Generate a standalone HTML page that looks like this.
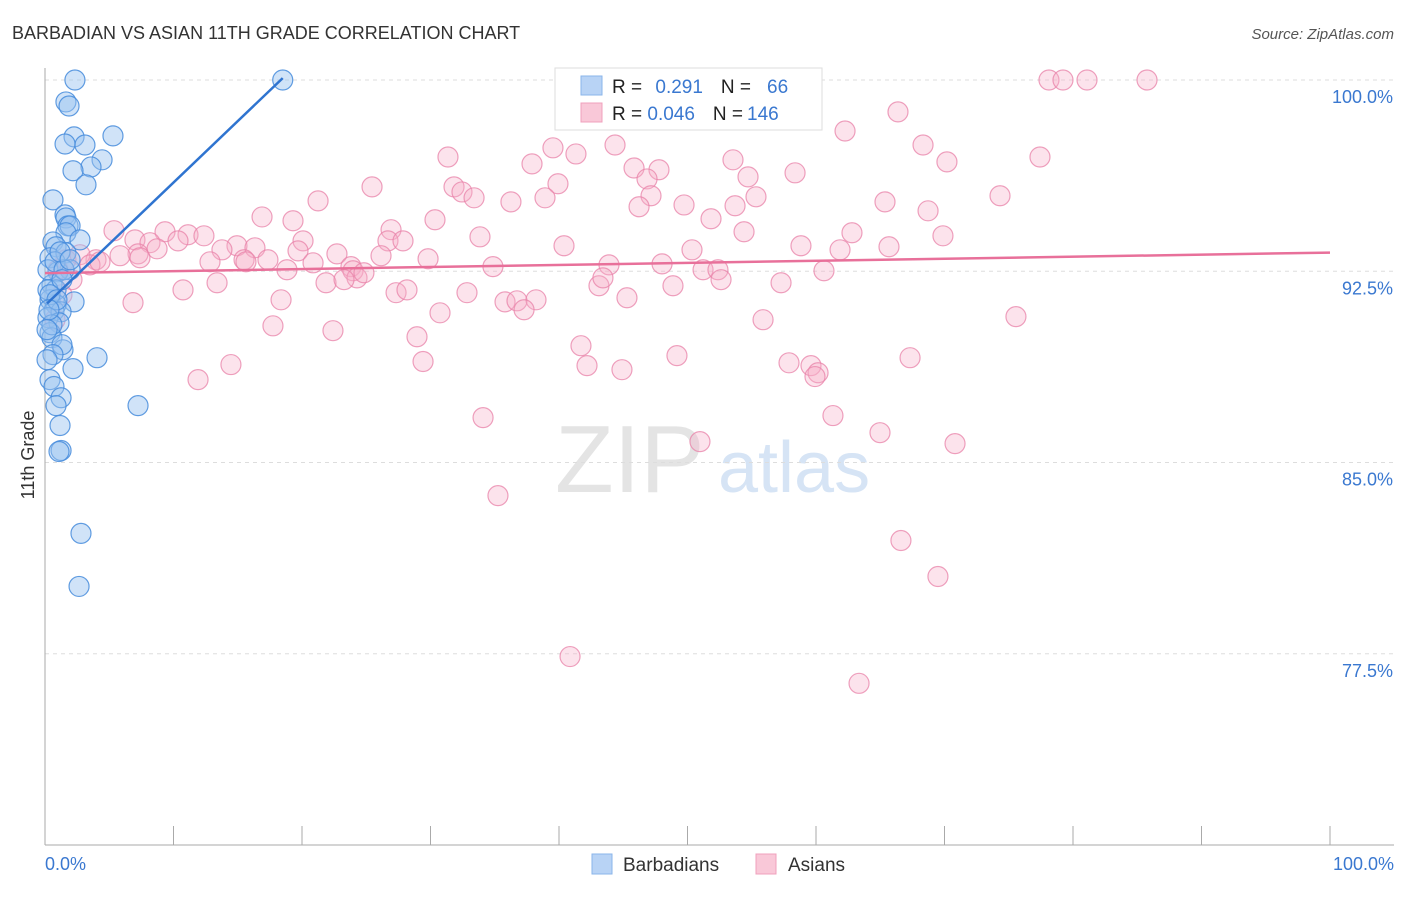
<!DOCTYPE html>
<html><head><meta charset="utf-8"><style>
body{margin:0;background:#fff;font-family:"Liberation Sans",sans-serif;}
svg text{font-family:"Liberation Sans",sans-serif;}
</style></head><body>
<svg id="chart" width="1406" height="892" viewBox="0 0 1406 892" xmlns="http://www.w3.org/2000/svg">
<text x="12" y="39" font-size="18" fill="#333">BARBADIAN VS ASIAN 11TH GRADE CORRELATION CHART</text>
<text x="1394" y="39" font-size="15" fill="#555" text-anchor="end" font-style="italic">Source: ZipAtlas.com</text>
<g>
<text x="555" y="492" font-size="96" fill="#e4e4e4" font-family="Liberation Serif, serif">ZIP</text>
<text x="718" y="492" font-size="72" fill="#d6e4f5">atlas</text>
</g>
<g id="grid"></g>
<g id="axes"></g>
<g id="pinkPts"></g>
<g id="bluePts"></g>
<g id="lines"></g>
<text transform="translate(34,455) rotate(-90)" font-size="18" fill="#333" text-anchor="middle">11th Grade</text>
<g>
<rect x="555" y="68" width="267" height="62" fill="#fff" stroke="#ddd"/>
<rect x="581" y="76" width="21" height="19" fill="#b8d3f5" stroke="#8ab4ea"/>
<rect x="581" y="103" width="21" height="19" fill="#f9c8d8" stroke="#f0a0bc"/>
<text x="612" y="93" font-size="19" fill="#222">R = <tspan fill="#3a78d0" dx="8">0.291</tspan><tspan dx="18" fill="#222">N =</tspan><tspan dx="16" fill="#3a78d0">66</tspan></text>
<text x="612" y="120" font-size="19" fill="#222">R = <tspan fill="#3a78d0">0.046</tspan><tspan dx="18" fill="#222">N =</tspan><tspan dx="4" fill="#3a78d0">146</tspan></text>
</g>
<g>
<rect x="592" y="854" width="20" height="20" fill="#b8d3f5" stroke="#8ab4ea"/>
<text x="623" y="871" font-size="19" fill="#333">Barbadians</text>
<rect x="756" y="854" width="20" height="20" fill="#f9c8d8" stroke="#f0a0bc"/>
<text x="788" y="871" font-size="19" fill="#333">Asians</text>
</g>
</svg>
<script>
const blueX=[2.33,18.5,1.63,1.87,2.26,1.56,3.11,5.29,4.44,3.58,2.18,3.19,0.62,1.56,1.63,1.79,1.95,1.63,2.72,0.62,0.86,0.39,1.63,1.95,1.01,0.54,0.86,2.26,0.39,0.86,0.70,1.25,0.23,1.09,0.39,0.54,1.40,1.32,4.05,2.18,0.39,0.70,1.25,0.86,7.24,1.17,1.25,1.09,2.80,2.65,0.23,0.23,0.54,0.16,0.78,1.48,1.32,0.39,0.93,0.31,1.17,1.95,0.62,0.16];
const blueY=[100,100,99.14,98.98,97.77,97.49,97.45,97.81,96.87,96.59,96.44,95.89,95.30,94.71,94.59,94.28,94.28,94.01,93.73,93.65,93.46,93.03,93.22,92.56,92.48,91.97,91.77,91.30,91.38,91.19,90.95,90.91,90.68,90.48,90.09,89.89,89.42,89.62,89.11,88.68,88.25,87.98,87.54,87.23,87.23,86.45,85.47,85.43,82.22,80.14,92.56,91.77,90.40,90.21,92.87,92.56,92.17,91.58,91.38,90.99,93.26,92.95,89.23,89.03];
const pinkX=[78.13,79.22,81.09,85.76,66.38,56.81,62.26,68.33,44.36,39.53,41.32,31.36,77.43,70.19,53.54,45.84,47.78,37.90,58.37,54.71,46.85,25.45,31.83,32.45,33.39,39.92,38.91,74.32,55.33,36.26,21.25,47.16,46.23,49.73,53.70,65.37,16.89,19.30,30.35,68.72,51.83,26.93,33.85,26.69,27.86,40.39,54.40,62.80,69.88,58.83,65.68,50.35,61.87,5.37,7.00,9.34,11.13,12.37,14.94,16.34,13.77,8.17,10.35,8.72,7.24,20.08,19.69,22.72,5.84,3.97,12.84,15.49,17.35,20.86,23.81,29.81,34.86,26.15,18.83,15.64,7.39,48.02,43.89,51.21,52.37,60.62,23.97,24.28,21.87,23.27,24.82,13.39,10.74,48.87,52.61,57.28,43.11,43.42,27.32,28.17,32.84,45.29,35.80,36.73,38.21,37.28,18.37,6.85,30.74,55.88,75.56,17.74,22.41,28.95,41.71,49.18,67.32,29.42,42.18,44.90,57.90,59.61,60.16,59.92,14.47,11.91,34.09,61.32,64.98,50.97,70.82,35.25,66.61,69.49,40.86,63.35,1.63,2.10,1.32,0.78,2.72,3.50,4.28,1.01];
const pinkY=[100,100,100,100,98.75,98.63,98.00,97.45,97.45,97.34,97.10,96.98,96.98,96.79,96.87,96.55,96.48,96.71,96.36,96.20,96.12,95.81,95.81,95.61,95.38,95.93,95.38,95.46,95.42,95.22,95.26,95.46,95.03,95.10,95.07,95.22,94.63,94.48,94.52,94.87,94.56,94.13,93.85,93.69,93.69,93.50,94.05,94.01,93.89,93.50,93.46,93.34,93.34,94.09,93.73,94.05,93.93,93.89,93.50,93.42,93.34,93.62,93.69,93.38,93.18,93.69,93.30,93.18,93.11,92.95,92.87,92.95,92.95,92.83,92.68,92.99,92.68,93.11,92.56,92.87,93.03,92.79,92.75,92.56,92.56,92.52,92.52,92.24,92.05,92.17,92.44,92.05,91.77,91.93,92.17,92.05,91.93,92.24,91.66,91.77,91.66,91.46,91.30,91.34,91.38,90.99,91.38,91.27,90.87,90.60,90.72,90.36,90.17,89.93,89.58,89.19,89.11,88.96,88.80,88.64,88.91,88.80,88.52,88.37,88.84,88.25,86.76,86.84,86.17,85.82,85.74,83.70,81.94,80.53,77.39,76.34,92.95,92.17,91.58,90.60,93.15,92.75,92.87,92.56];
const yTicks=[100,92.5,85,77.5];
const yTickLabels=["100.0%","92.5%","85.0%","77.5%"];
const xTickCount=10;

const NS="http://www.w3.org/2000/svg";
const X0=45,X1=1330,YT=80,YB=845,VMIN=70,VMAX=100;
function sx(v){return X0+(v/100)*(X1-X0);}
function sy(v){return YT+(VMAX-v)/(VMAX-VMIN)*(YB-YT);}
function mk(tag,attrs,parent){const e=document.createElementNS(NS,tag);for(const k in attrs)e.setAttribute(k,attrs[k]);parent.appendChild(e);return e;}
const grid=document.getElementById('grid'),axes=document.getElementById('axes');
yTicks.forEach((t,i)=>{
  const l=mk('line',{x1:X0,x2:1394,y1:sy(t),y2:sy(t),stroke:'#ddd','stroke-dasharray':'4,4'},grid);
  
  
  const tx=mk('text',{x:1393,y:sy(t)+23,'font-size':18,fill:'#3a78d0','text-anchor':'end'},axes);
  tx.textContent=yTickLabels[i];
  
  
});
const ya=mk('line',{x1:X0,x2:X0,y1:68,y2:YB,stroke:'#aaa'},axes);


const xa=mk('line',{x1:X0,x2:1394,y1:YB,y2:YB,stroke:'#aaa'},axes);


for(let i=0;i<=xTickCount;i++){
  const t=mk('line',{x1:sx(i*10),x2:sx(i*10),y1:826,y2:YB,stroke:'#aaa'},axes);
  
  
}
const xl=mk('text',{x:45,y:870,'font-size':18,fill:'#3a78d0'},axes);xl.textContent='0.0%';


const xr=mk('text',{x:1394,y:870,'font-size':18,fill:'#3a78d0','text-anchor':'end'},axes);xr.textContent='100.0%';



function pts(xs,ys,g,fill,stroke,name){
  xs.forEach((x,i)=>{
    const c=mk('circle',{cx:sx(x),cy:sy(ys[i]),r:10,fill:fill,stroke:stroke,'stroke-width':1.2},g);
    
    
  });
}
pts(pinkX,pinkY,document.getElementById('pinkPts'),'rgba(246,176,200,0.35)','rgba(232,130,168,0.75)','asian-point');
pts(blueX,blueY,document.getElementById('bluePts'),'rgba(150,192,240,0.45)','rgba(70,140,220,0.85)','barbadian-point');

function fit(xs,ys){const n=xs.length;let mx=0,my=0;xs.forEach((x,i)=>{mx+=x;my+=ys[i];});mx/=n;my/=n;let sxy=0,sxx=0;xs.forEach((x,i)=>{sxy+=(x-mx)*(ys[i]-my);sxx+=(x-mx)*(x-mx);});const b=sxy/sxx;return [my-b*mx,b];}
const lines=document.getElementById('lines');
const pf=fit(pinkX,pinkY);
const pl=mk('line',{x1:sx(0),y1:sy(pf[0]),x2:sx(100),y2:sy(pf[0]+pf[1]*100),stroke:'#e8709a','stroke-width':2.5},lines);


const bf=fit(blueX,blueY);
const bmin=Math.min(...blueX),bmax=Math.max(...blueX);
const bl=mk('line',{x1:sx(bmin),y1:sy(bf[0]+bf[1]*bmin),x2:sx(bmax),y2:sy(bf[0]+bf[1]*bmax),stroke:'#2f74d0','stroke-width':2.5},lines);


</script>
</body></html>
